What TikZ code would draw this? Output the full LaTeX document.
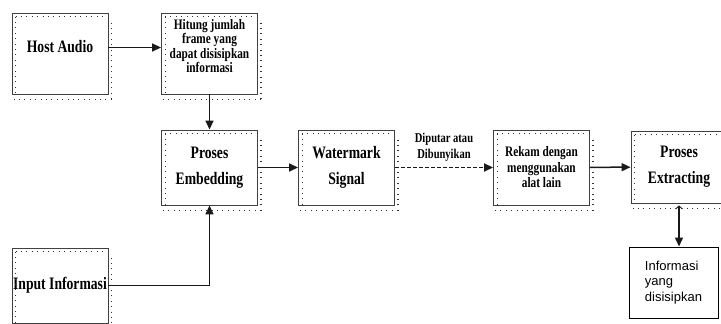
\documentclass[tikz,border=0pt]{standalone}
\usepackage{fontspec}
\setmainfont{Liberation Serif}[FakeStretch=0.78]
\newfontfamily\infofont{Liberation Sans}
\usetikzlibrary{arrows.meta}

\begin{document}
\begin{tikzpicture}[x=1pt,y=-1pt,>={Triangle[length=9pt,width=8pt]}]
    \tikzstyle{block}=[draw=black!75,line width=0.9pt,minimum width=96pt,minimum height=75pt,inner sep=1pt,align=center,font=\fontsize{17.5}{26}\selectfont\bfseries]
    \tikzstyle{top block}=[block, minimum height=81pt, text depth=15pt]
    \tikzstyle{dots}=[black!80,line width=1.1pt,dash pattern=on 0.9pt off 4.5pt]
    \tikzstyle{link}=[->,draw=black!90,line width=1.5pt]
    \tikzstyle{annot}=[align=center,inner sep=1pt,font=\fontsize{13.5}{16.5}\selectfont\bfseries]

    \useasboundingbox (0,0) rectangle (721,324);

    % Draw the boxes
    \node[top block] (host) at (60,53.5) {Host Audio};
    \node[top block, font=\fontsize{14.5}{12.7}\selectfont\bfseries] (hitung) at (209.5,53.5) {Hitung jumlah\\frame yang\\dapat disisipkan\\informasi};
    \node[block] (embed) at (209.5,167.5) {Proses\\Embedding};
    \node[block] (wm) at (346.5,167.5) {Watermark\\Signal};
    \node[block, font=\fontsize{14.5}{15.5}\selectfont\bfseries] (rekam) at (541.5,167.5) {Rekam dengan\\menggunakan\\alat lain};
    \node[block, minimum height=72pt] (extract) at (679,167) {Proses\\Extracting};
    \node[block] (input) at (60,285.5) {Input Informasi};
    \node[draw=black,line width=1pt,minimum width=89pt,minimum height=71pt,align=left,font=\infofont\fontsize{13}{15.5}\selectfont] (info) at (673.5,282.5) {Informasi\\yang\\disisipkan};

    % Dotted frames round the boxes
    \foreach \b in {host,hitung,embed,wm,rekam,extract,input}{
        \draw[dots] ([shift={(4,4)}]\b.north west) -- ([shift={(-4,4)}]\b.north east);
        \draw[dots] ([shift={(4,4)}]\b.north west) -- ([shift={(4,0)}]\b.south west);
        \draw[dots] ([shift={(3,10)}]\b.north east) -- ([shift={(3,5)}]\b.south east);
        \draw[dots] ([shift={(2,5)}]\b.south west) -- ([shift={(3,5)}]\b.south east);
    }

    % Connect the boxes
    \draw[link] ([yshift=6pt]host.east) -- ([yshift=6pt]hitung.west);
    \draw[link] (hitung) -- (embed);
    \draw[link] (embed) -- (wm);
    \draw[link, line width=1.7pt, dash pattern=on 4pt off 2pt] (wm) -- (rekam)
        node[annot, midway, above=4pt] {Diputar atau\\Dibunyikan};
    \draw[link] (rekam) -- (extract);
    \draw[link] (input) -| (embed);
    \draw[link, {Straight Barb[length=3pt,width=7pt,line width=0.8pt]}->] ([yshift=-2pt]extract.south) -- (extract.south |- info.north);
\end{tikzpicture}
\end{document}
